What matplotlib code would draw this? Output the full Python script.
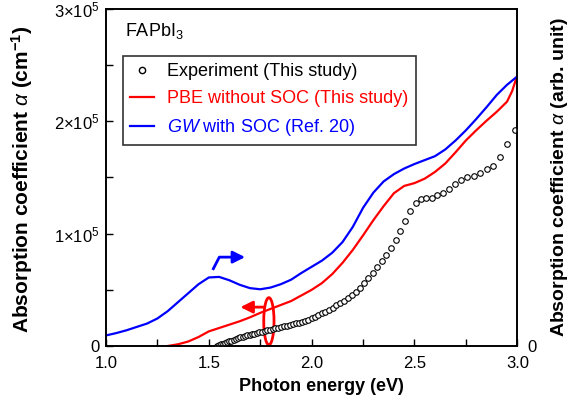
import numpy as np
import matplotlib
matplotlib.use('Agg')
import matplotlib.pyplot as plt
from matplotlib.patches import Arc
from matplotlib.lines import Line2D

plt.rcParams['font.family'] = ['Liberation Sans', 'DejaVu Sans']
plt.rcParams['mathtext.fontset'] = 'custom'
plt.rcParams['mathtext.rm'] = 'Liberation Sans'
plt.rcParams['mathtext.it'] = 'Liberation Sans:italic'
plt.rcParams['mathtext.bf'] = 'Liberation Sans:bold'

# experiment (circles), energy in eV, alpha in 1e5 cm^-1
exp_energy = [1.540, 1.550, 1.560, 1.570, 1.580, 1.590, 1.600, 1.610, 1.621, 1.632,
              1.642, 1.653, 1.664, 1.676, 1.687, 1.699, 1.710, 1.722, 1.734, 1.746,
              1.759, 1.771, 1.784, 1.797, 1.810, 1.824, 1.837, 1.851, 1.865, 1.879,
              1.893, 1.908, 1.922, 1.938, 1.953, 1.968, 1.984, 2.000, 2.016, 2.033,
              2.050, 2.067, 2.084, 2.102, 2.120, 2.138, 2.157, 2.175, 2.195, 2.214,
              2.234, 2.255, 2.275, 2.296, 2.318, 2.340, 2.362, 2.385, 2.408, 2.431,
              2.455, 2.480, 2.505, 2.531, 2.557, 2.583, 2.611, 2.638, 2.667, 2.696,
              2.725, 2.756, 2.787, 2.818, 2.851, 2.884, 2.918, 2.952, 2.988]
exp_alpha = [0.000, 0.008, 0.015, 0.022, 0.030, 0.035, 0.040, 0.045, 0.051, 0.060,
             0.068, 0.077, 0.083, 0.089, 0.094, 0.100, 0.105, 0.110, 0.116, 0.121,
             0.127, 0.132, 0.138, 0.144, 0.150, 0.156, 0.162, 0.168, 0.174, 0.181,
             0.187, 0.194, 0.201, 0.209, 0.217, 0.226, 0.235, 0.245, 0.259, 0.274,
             0.290, 0.306, 0.323, 0.342, 0.362, 0.382, 0.404, 0.426, 0.453, 0.484,
             0.520, 0.561, 0.605, 0.651, 0.700, 0.755, 0.812, 0.876, 0.945, 1.020,
             1.110, 1.200, 1.272, 1.305, 1.314, 1.318, 1.340, 1.366, 1.398, 1.444,
             1.478, 1.500, 1.515, 1.540, 1.572, 1.605, 1.680, 1.795, 1.920]

# PBE without SOC
pbe_energy = [1.30, 1.35, 1.40, 1.45, 1.50, 1.55, 1.60, 1.65, 1.70, 1.75,
              1.80, 1.85, 1.90, 1.95, 2.00, 2.05, 2.10, 2.15, 2.20, 2.25,
              2.30, 2.35, 2.40, 2.45, 2.50, 2.55, 2.60, 2.65, 2.70, 2.75,
              2.80, 2.85, 2.90, 2.95, 2.975, 3.00]
pbe_alpha = [0.0, 0.015, 0.04, 0.08, 0.13, 0.16, 0.19, 0.22, 0.255, 0.295,
             0.33, 0.365, 0.40, 0.45, 0.50, 0.56, 0.64, 0.74, 0.855, 0.985,
             1.12, 1.245, 1.36, 1.425, 1.45, 1.49, 1.55, 1.625, 1.725, 1.83,
             1.92, 2.005, 2.085, 2.175, 2.27, 2.41]

# GW with SOC (arb. unit, right axis)
gw_energy = [1.00, 1.05, 1.10, 1.15, 1.20, 1.25, 1.30, 1.35, 1.40, 1.45,
             1.50, 1.55, 1.60, 1.65, 1.70, 1.75, 1.80, 1.85, 1.90, 1.95,
             2.00, 2.05, 2.10, 2.15, 2.20, 2.25, 2.30, 2.35, 2.40, 2.45,
             2.50, 2.55, 2.60, 2.65, 2.70, 2.75, 2.80, 2.85, 2.90, 2.95, 3.00]
gw_alpha = [0.094, 0.115, 0.14, 0.17, 0.20, 0.245, 0.31, 0.39, 0.47, 0.55,
            0.61, 0.615, 0.585, 0.545, 0.515, 0.505, 0.52, 0.55, 0.59, 0.65,
            0.705, 0.76, 0.83, 0.925, 1.06, 1.23, 1.365, 1.465, 1.53, 1.58,
            1.62, 1.655, 1.69, 1.75, 1.83, 1.92, 2.02, 2.125, 2.235, 2.325, 2.40]

fig = plt.figure(figsize=(5.72, 4.05), dpi=100)
ax = fig.add_axes([0.1853, 0.1457, 0.7191, 0.8321])
ax2 = ax.twinx()

ax.plot(np.array(exp_energy), np.array(exp_alpha) * 1e5, 'o', ms=4, mfc='white',
        mec='black', mew=0.8, zorder=3)
ax.plot(np.array(pbe_energy), np.array(pbe_alpha) * 1e5, color='red', lw=1.6)
ax2.plot(gw_energy, gw_alpha, color='blue', lw=1.6)

ax.set_xlim(1.0, 3.0)
ax.set_ylim(0, 3e5)
ax2.set_ylim(0, 3)

ax.set_xticks([1.0, 1.5, 2.0, 2.5, 3.0])
ax.set_xticklabels(['1.0', '1.5', '2.0', '2.5', '3.0'])
ax.set_xticks([1.25, 1.75, 2.25, 2.75], minor=True)
ax.set_yticks([0, 1e5, 2e5, 3e5])
ax.set_yticklabels(['0', '1×10$^5$', '2×10$^5$', '3×10$^5$'])
ax.set_yticks([0.5e5, 1.5e5, 2.5e5], minor=True)
ax.tick_params(which='both', direction='in', labelsize=12, width=1.0, top=False,
               right=False, length=5)
ax.tick_params(axis='x', pad=7.5)
ax.tick_params(axis='y', pad=4.5)
ax2.set_yticks([0])
ax2.set_yticklabels(['0'])
ax2.tick_params(length=0, labelsize=12, pad=7)

for a in (ax, ax2):
    for s in a.spines.values():
        s.set_linewidth(1.2)

ax.set_xlabel('Photon energy (eV)', fontsize=13, fontweight='bold')
ax.xaxis.set_label_coords(0.524, -0.095)
ax.set_ylabel(r'Absorption coefficient $\alpha$ (cm$^{\mathbf{-1}}$)', fontsize=15,
              fontweight='bold')
ax.yaxis.set_label_coords(-0.173, 0.495)
ax2.set_ylabel(r'Absorption coefficient $\alpha$ (arb. unit)', fontsize=14,
               fontweight='bold')
ax2.yaxis.set_label_coords(1.077, 0.5)

ax.text(0.046, 0.935, 'FAPbI$_3$', transform=ax.transAxes, fontsize=13, va='center')

handles = [Line2D([], [], ls='none', marker='o', ms=4.5, mfc='white', mec='black', mew=1.0),
           Line2D([], [], color='red', lw=1.6),
           Line2D([], [], color='blue', lw=1.6)]
labels = ['Experiment (This study)', 'PBE without SOC (This study)',
          r'$\it{GW}$ with SOC (Ref. 20)']
leg = ax2.legend(handles, labels, loc='upper left', bbox_to_anchor=(0.041, 0.861),
                 borderaxespad=0, fontsize=13, frameon=True, fancybox=False,
                 handlelength=1.35, handletextpad=0.72, labelspacing=0.55,
                 borderpad=0.4, labelcolor=['black', 'red', 'blue'])
leg.get_frame().set_edgecolor('black')
leg.get_frame().set_linewidth(1.2)

# blue bent arrow pointing right
ax.plot([1.522, 1.551, 1.64], [0.688e5, 0.791e5, 0.791e5], color='blue', lw=2)
ax.annotate('', xy=(1.69, 0.791e5), xytext=(1.62, 0.791e5),
            arrowprops=dict(arrowstyle='-|>', color='blue', lw=2, mutation_scale=18))

# red curl with arrow pointing left
ax.annotate('', xy=(1.64, 0.346e5), xytext=(1.785, 0.346e5),
            arrowprops=dict(arrowstyle='-|>', color='red', lw=2, mutation_scale=18))
ax.add_patch(Arc((1.792, 0.22e5), 0.05, 0.42e5, theta1=200, theta2=470,
                 color='red', lw=2))

fig.savefig('out.png', dpi=100)
